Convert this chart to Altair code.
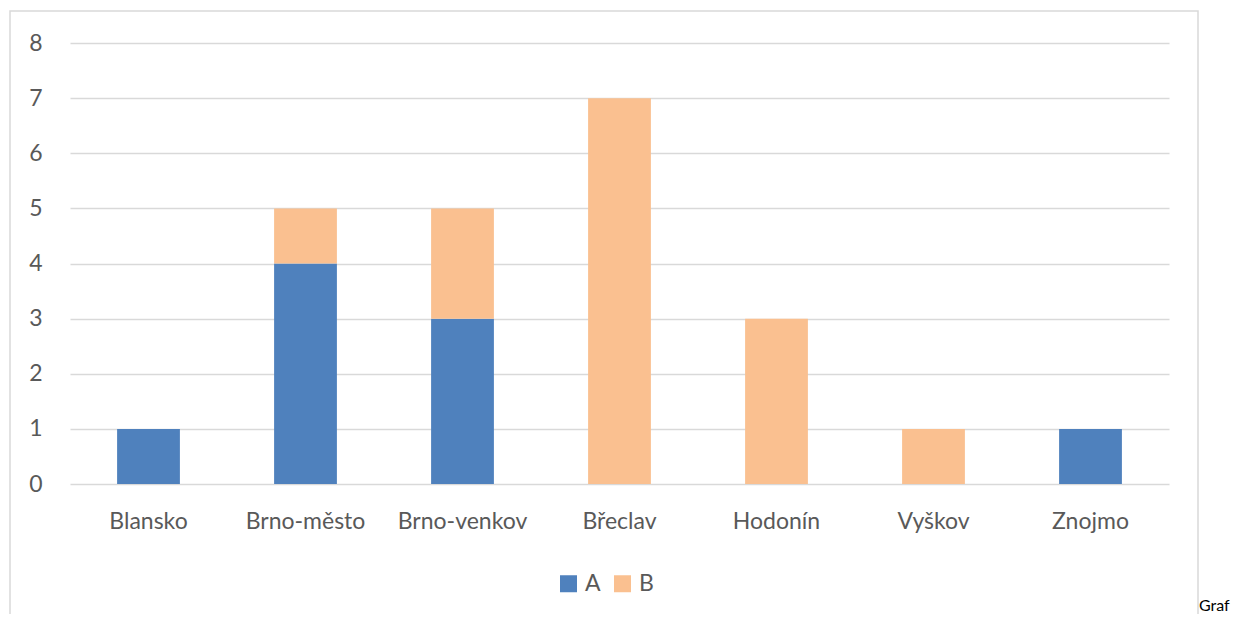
import altair as alt
import pandas as pd

categories = ["Blansko", "Brno-město", "Brno-venkov", "Břeclav", "Hodonín", "Vyškov", "Znojmo"]
series_a = [1, 4, 3, 0, 0, 0, 1]
series_b = [0, 1, 2, 7, 3, 1, 0]
y_ticks = [0, 1, 2, 3, 4, 5, 6, 7, 8]

rows = []
for c, a, b in zip(categories, series_a, series_b):
    rows.append({"okres": c, "serie": "A", "hodnota": a})
    rows.append({"okres": c, "serie": "B", "hodnota": b})
df = pd.DataFrame(rows)

FONT = "Lato"
GREY = "#595959"
W, H = 1099, 441

bars = alt.Chart(df).mark_bar().encode(
    x=alt.X("okres:N", sort=categories,
            scale=alt.Scale(paddingInner=0.6, paddingOuter=0.3),
            axis=alt.Axis(title=None, labelAngle=0, labelFontSize=23, labelColor=GREY,
                          labelFont=FONT, ticks=False, domain=False, labelPadding=26)),
    y=alt.Y("hodnota:Q", stack="zero",
            scale=alt.Scale(domain=[0, 8], nice=False),
            axis=alt.Axis(title=None, values=y_ticks, labelFontSize=23, labelColor=GREY,
                          labelFont=FONT, ticks=False, domain=False, labelPadding=28,
                          grid=True, gridColor="#D9D9D9", gridWidth=1.5)),
    color=alt.Color("serie:N",
                    scale=alt.Scale(domain=["A", "B"], range=["#4F81BD", "#FAC090"]),
                    legend=alt.Legend(title=None, orient="none", direction="horizontal",
                                      legendX=487, legendY=529, symbolType="square",
                                      symbolSize=289, symbolStrokeWidth=0,
                                      labelFontSize=23, labelColor=GREY, labelFont=FONT,
                                      columnPadding=10, labelOffset=5)),
    order=alt.Order("serie:N", sort="ascending"),
)

border = alt.Chart(pd.DataFrame({"k": [0]})).mark_rect(
    fill=None, stroke="#D9D9D9", strokeWidth=1.5
).encode(x=alt.value(-60), x2=alt.value(1128), y=alt.value(-32), y2=alt.value(700))

graf = alt.Chart(pd.DataFrame({"t": ["Graf"]})).mark_text(
    align="left", baseline="alphabetic", fontSize=16, font=FONT, color="#000000"
).encode(text="t:N", x=alt.value(1129), y=alt.value(568))

chart = alt.layer(border, bars, graf).properties(
    width=W, height=H,
    padding={"left": 62, "top": 35, "right": 67, "bottom": 130},
    autosize=alt.AutoSizeParams(type="none"),
).configure_view(stroke=None)

chart.save("out.html", embed_options={"renderer": "svg", "actions": False})
